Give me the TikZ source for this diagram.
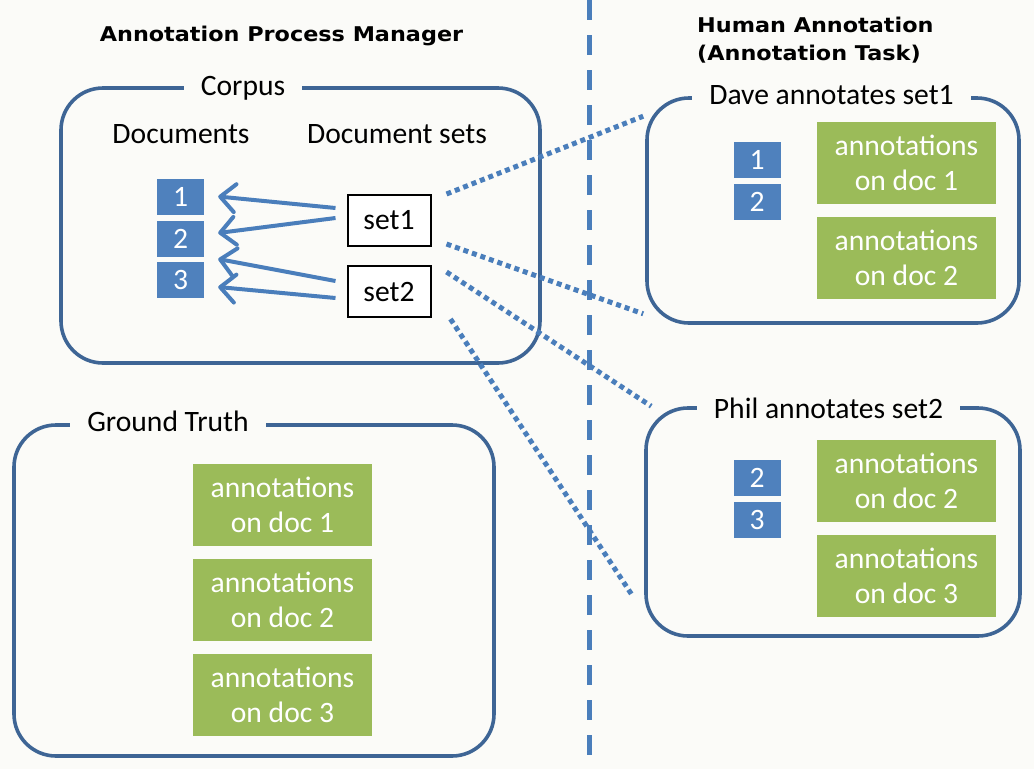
\documentclass[tikz,border=0pt]{standalone}
\usepackage{fontspec}
\setmainfont{Carlito}
\newfontfamily\hdrfont[FakeStretch=1.1]{DejaVu Sans Bold}
\usetikzlibrary{arrows.meta}
\definecolor{bgc}{HTML}{FBFBF8}
\definecolor{docblue}{HTML}{4F81BD}
\definecolor{annogreen}{HTML}{9BBB59}
\definecolor{framec}{HTML}{3E6595}
\definecolor{linec}{HTML}{4A7EBB}
\tikzset{
  frame/.style={draw=framec, line width=3.6pt, rounded corners=42pt, inner sep=0pt},
  ttl/.style={fill=bgc, inner xsep=17pt, inner ysep=0pt, text height=21pt, text depth=6pt, anchor=base, font=\fontsize{29.6}{35}\selectfont},
  lbl/.style={anchor=base, inner sep=0pt, font=\fontsize{29.6}{35}\selectfont},
  docsq/.style={fill=docblue, text=white, minimum width=47pt, minimum height=36pt, inner sep=0pt, font=\fontsize{29.6}{35}\selectfont},
  setbox/.style={draw=black, line width=2pt, fill=white, minimum width=83pt, minimum height=51pt, inner sep=0pt, font=\fontsize{29.6}{35}\selectfont},
  anno/.style={fill=annogreen, text=white, minimum width=179pt, minimum height=82pt, inner sep=0pt, align=center, font=\fontsize{29.6}{35}\selectfont},
  hdr/.style={inner sep=0pt, font=\hdrfont\fontsize{20.3}{28}\selectfont},
  arr/.style={draw=linec, line width=4pt, -{Straight Barb[length=15pt,width=28pt,line join=round,line cap=round]}},
  dots/.style={draw=linec, line width=5pt, dash pattern=on 5pt off 4pt},
  vdash/.style={draw=linec, line width=5pt, dash pattern=on 20pt off 15pt}
}
\begin{document}
\begin{tikzpicture}[x=1pt,y=-1pt]
\useasboundingbox (0,0) rectangle (1034,769);
\fill[bgc] (0,0) rectangle (1034,769);

% divider
\coordinate (vtop) at (589,0);
\coordinate (vbot) at (589,769);
\draw[vdash] (vtop) -- (vbot);

% headers
\node[hdr, anchor=base] (hleft) at (281.5,41) {Annotation Process Manager};
\node[hdr, anchor=base west] (hright1) at (697,32) {Human Annotation};
\node[hdr, anchor=base west] (hright2) at (697,60) {(Annotation Task)};

% Corpus frame
\node[frame, minimum width=479pt, minimum height=275pt] (corpus) at (300.5,225.5) {};
\node[ttl] (corpusT) at (243,95) {Corpus};
\node[lbl] (docsL) at (181,143) {Documents};
\node[lbl] (setsL) at (397,143) {Document sets};

\node[docsq] (d1) at (180.5,196.5) {1};
\node[docsq] (d2) at (180.5,239) {2};
\node[docsq] (d3) at (180.5,280) {3};

\node[setbox] (set1) at (389,220.5) {set1};
\node[setbox] (set2) at (389,291.5) {set2};

\draw[arr] ([xshift=-11pt,yshift=12.5pt]set1.west) -- ([xshift=14pt,yshift=0pt]d1.east);
\draw[arr] ([xshift=-11pt,yshift=2.5pt]set1.west) -- ([xshift=14pt,yshift=6pt]d2.east);
\draw[arr] ([xshift=-11pt,yshift=10.5pt]set2.west) -- ([xshift=14pt,yshift=-20pt]d2.east);
\draw[arr] ([xshift=-11pt,yshift=-6.5pt]set2.west) -- ([xshift=14pt,yshift=-7pt]d3.east);

% Ground truth frame
\node[frame, minimum width=480pt, minimum height=331pt] (gt) at (254,590.5) {};
\node[ttl] (gtT) at (168,431) {Ground Truth};
\node[anno] (g1) at (282.5,505) {annotations\\on doc 1};
\node[anno] (g2) at (282.5,600) {annotations\\on doc 2};
\node[anno] (g3) at (282.5,695) {annotations\\on doc 3};

% Dave frame
\node[frame, minimum width=372pt, minimum height=225pt] (dave) at (833,210.5) {};
\node[ttl] (daveT) at (831.5,104) {Dave annotates set1};
\node[docsq] (dv1) at (757,160) {1};
\node[docsq] (dv2) at (757,201.5) {2};
\node[anno] (da1) at (906.5,163) {annotations\\on doc 1};
\node[anno] (da2) at (906.5,258) {annotations\\on doc 2};

% Phil frame
\node[frame, minimum width=374pt, minimum height=228pt] (phil) at (833,522) {};
\node[ttl] (philT) at (828.5,418) {Phil annotates set2};
\node[docsq] (ph2) at (757,478) {2};
\node[docsq] (ph3) at (757,520) {3};
\node[anno] (pa2) at (906.5,481) {annotations\\on doc 2};
\node[anno] (pa3) at (906.5,576) {annotations\\on doc 3};

% dotted links
\draw[dots] ([xshift=15pt]set1.north east) -- ([xshift=-2pt,yshift=-20pt]dave.north west);
\draw[dots] ([xshift=15pt,yshift=3pt]set1.south east) -- ([xshift=-2pt,yshift=11pt]dave.south west);
\draw[dots] ([xshift=15pt,yshift=-7pt]set2.north east) -- ([xshift=7pt,yshift=0pt]phil.north west);
\draw[dots] ([xshift=19pt,yshift=-1pt]set2.south east) -- ([xshift=-11pt,yshift=41pt]phil.south west);
\end{tikzpicture}
\end{document}
